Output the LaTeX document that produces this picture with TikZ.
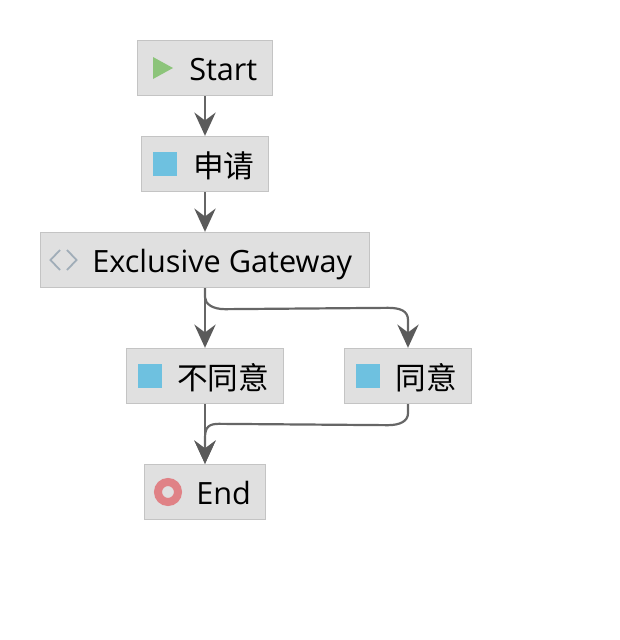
\documentclass[tikz,border=0pt]{standalone}
\usepackage{fontspec}
\setmainfont{Open Sans}
\newfontfamily\cjk{Noto Sans CJK SC}
\usetikzlibrary{arrows.meta,calc}
\definecolor{boxfill}{HTML}{E0E0E0}
\definecolor{boxline}{HTML}{C4C4C4}
\definecolor{conn}{HTML}{666666}
\definecolor{tipc}{HTML}{5A5A5A}
\definecolor{taskblue}{HTML}{6EC1E0}
\definecolor{startgreen}{HTML}{8CC47A}
\definecolor{endred}{HTML}{E08286}
\definecolor{gatec}{HTML}{A0ADB8}
\tikzset{
  x=0.75pt,y=-0.75pt,
  stepbox/.style={draw=boxline,fill=boxfill,line width=1pt,inner sep=0pt,minimum height=41.25pt},
  label/.style={anchor=base west,inner sep=0pt,text=black,font=\fontsize{23pt}{27pt}\selectfont},
  cjklabel/.style={anchor=base west,inner sep=0pt,text=black,font=\fontsize{23pt}{27pt}\selectfont\cjk},
  task/.style={fill=taskblue,inner sep=0pt,minimum size=18pt,draw=none},
  flow/.style={draw=conn,line width=1.65pt,-{Stealth[length=17.5pt,width=16pt,inset=6pt,color=tipc]}},
}
\begin{document}
\begin{tikzpicture}
\useasboundingbox (0,0) rectangle (620,640);
\node[stepbox,minimum width=101.25pt] (start) at (205,68) {};
\node[stepbox,minimum width=95.25pt] (req) at (205,164) {};
\node[stepbox,minimum width=246.75pt] (gw) at (205,260) {};
\node[stepbox,minimum width=117.75pt] (no) at (205,376) {};
\node[stepbox,minimum width=95.25pt] (yes) at (408,376) {};
\node[stepbox,minimum width=90.75pt] (end) at (205,492) {};
% icons
\fill[startgreen] (153,57) -- (173,68) -- (153,79) -- cycle;
\node[task] (reqicon) at (165,164) {};
\draw[gatec,line width=1.35pt] (60,250) -- (50.5,260) -- (60,270);
\draw[gatec,line width=1.35pt] (67,250) -- (76.5,260) -- (67,270);
\node[task] (noicon) at (150,376) {};
\node[task] (yesicon) at (368,376) {};
\node[circle,draw=endred,fill=boxfill,line width=6pt,inner sep=0pt,minimum size=15pt] (endicon) at (168,492) {};
% labels
\node[label] (tstart) at (189,80) {Start};
\node[cjklabel] (treq) at (193,177) {申请};
\node[label] (tgw) at (92,272) {Exclusive Gateway};
\node[cjklabel] (tno) at (177,389) {不同意};
\node[cjklabel] (tyes) at (395.5,389) {同意};
\node[label] (tend) at (196,504) {End};
% connectors
\draw[flow] (start.south) -- (req.north);
\draw[flow] (req.south) -- (gw.north);
\draw[flow] (gw.south) -- (no.north);
\draw[flow] (gw.south) -- ($(gw.south)+(0,9)$)
  .. controls ($(gw.south)+(0,16)$) and ($(gw.south)+(8,21)$) .. ($(gw.south)+(20,21)$)
  -- ($(yes.north)+(-20,-40)$)
  .. controls ($(yes.north)+(-8,-40)$) and ($(yes.north)+(0,-37)$) .. ($(yes.north)+(0,-28)$)
  -- (yes.north);
\draw[flow] (no.south) -- (end.north);
\draw[flow] (yes.south) -- ($(yes.south)+(0,9)$)
  .. controls ($(yes.south)+(0,17)$) and ($(yes.south)+(-8,21)$) .. ($(yes.south)+(-20,21)$)
  -- ($(end.north)+(14,-40)$)
  .. controls ($(end.north)+(4,-40)$) and ($(end.north)+(0,-37)$) .. ($(end.north)+(0,-26)$)
  -- (end.north);
\end{tikzpicture}
\end{document}
